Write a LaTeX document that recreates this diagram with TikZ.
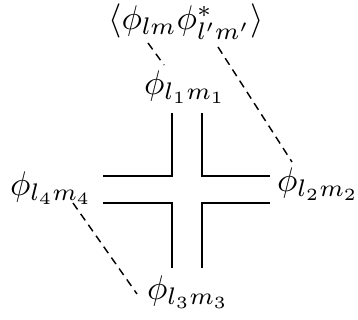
\documentclass[tikz,border=0pt]{standalone}
\begin{document}
\begin{tikzpicture}[x=0.292pt,y=-0.292pt,
  lab/.style={inner sep=0pt,anchor=center},
  wire/.style={line width=0.42pt},
  dsh/.style={line width=0.42pt,dash pattern=on 2.3pt off 1.6pt}]
\useasboundingbox (0,0) rectangle (358,320);
\node[lab] (top) at (186,21.5) {$\langle\phi_{lm}\phi^*_{l'm'}\rangle$};
\node[lab] (p1) at (185,87) {$\phi_{l_1m_1}$};
\node[lab] (p4) at (51,188) {$\phi_{l_4m_4}$};
\node[lab] (p2) at (318,184) {$\phi_{l_2m_2}$};
\node[lab] (p3) at (188,292) {$\phi_{l_3m_3}$};
% cross
\draw[wire] (172,113) -- (172,176) -- (103,176);
\draw[wire] (202,113) -- (202,176) -- (270,176);
\draw[wire] (103,203) -- (172,203) -- (172,268);
\draw[wire] (270,203) -- (202,203) -- (202,268);
% dashed
\coordinate (a1) at (148,43);
\coordinate (a2) at (164,65);
\coordinate (b1) at (218,47);
\coordinate (b2) at (292,162);
\coordinate (c1) at (73,203);
\coordinate (c2) at (137,294);
\draw[dsh] (a1) -- (a2);
\draw[dsh] (b1) -- (b2);
\draw[dsh] (c1) -- (c2);
\end{tikzpicture}
\end{document}
